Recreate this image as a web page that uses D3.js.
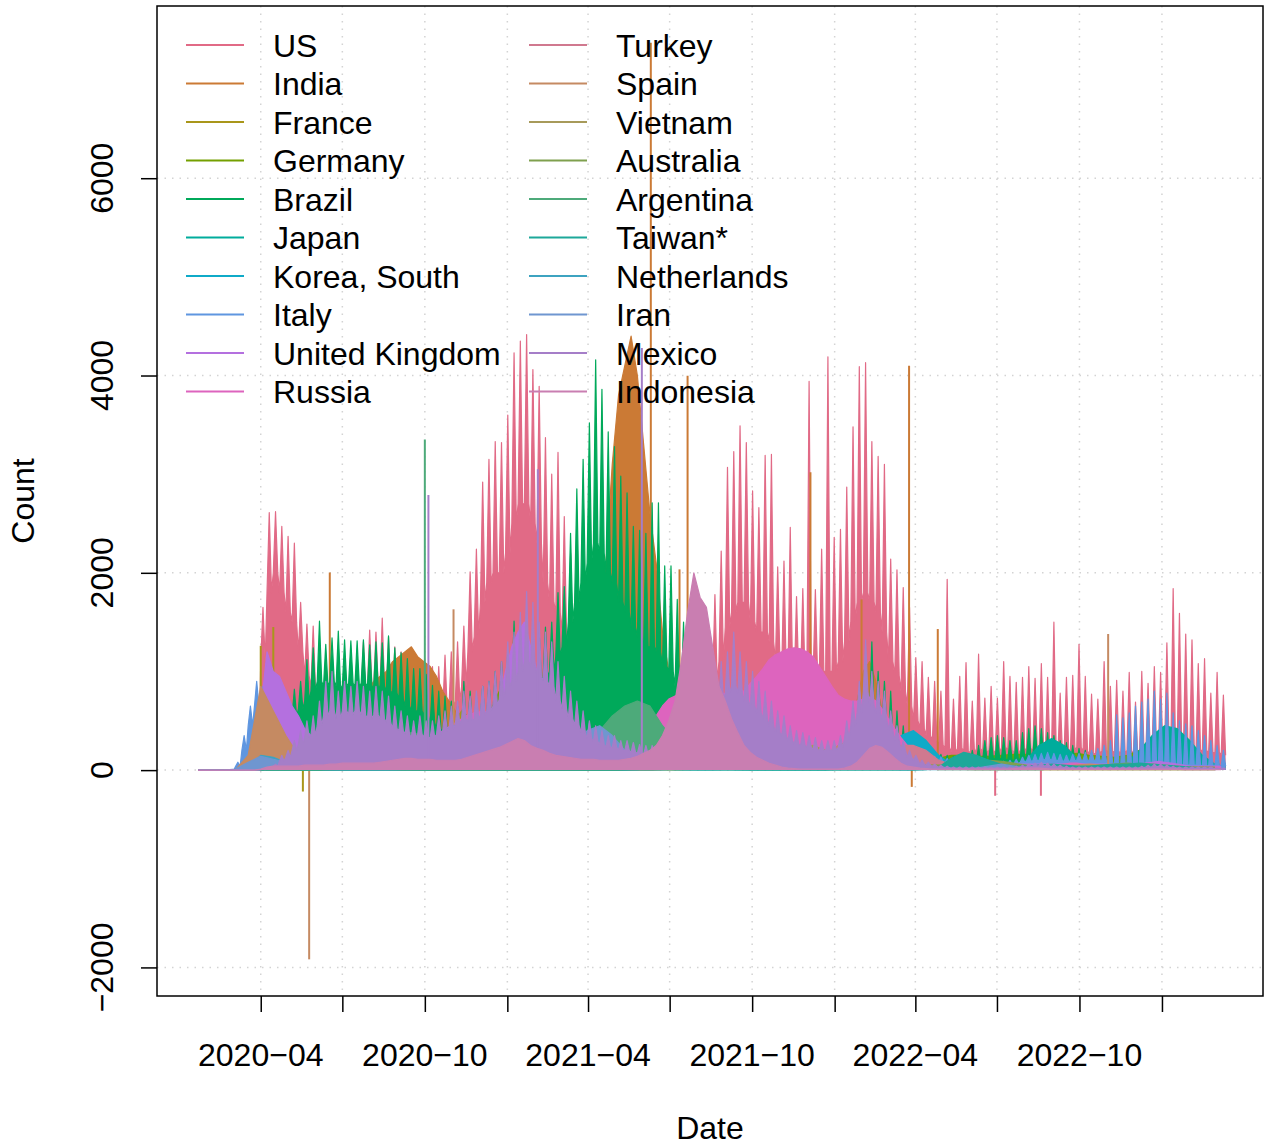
<!DOCTYPE html>
<html><head><meta charset="utf-8">
<script src="https://cdn.jsdelivr.net/npm/d3@7"></script>
<style>
body{margin:0;background:#fff}
svg{display:block}
text{font-family:"Liberation Sans",Arial,Helvetica,sans-serif;fill:#000}
</style>
</head><body>
<svg id="chart" width="1272" height="1147"></svg>
<script>
// ---------------- categories & colours ----------------
const countries = ["US","India","France","Germany","Brazil","Japan","Korea, South","Italy","United Kingdom","Russia",
                   "Turkey","Spain","Vietnam","Australia","Argentina","Taiwan*","Netherlands","Iran","Mexico","Indonesia"];
const colors = ["#E16A86","#CB7A35","#A9961A","#74A000","#00A95A","#00AC9C","#0FAAC8","#5F96E0","#B470DF","#DD64BE",
                "#D0798F","#C58A62","#A79A5A","#7FA04E","#4DAA7A","#1DA89A","#3DA3C0","#6F96D0","#A57EC8","#C97EB1"];

// ---------------- weekly high / low readings (week 0 = 2020-01-22) ----------------
const usHigh = [0,0,0,0,0,0,0,5,10,150,
 1650,2610,2620,2470,2370,2300,1700,1480,1460,1150,
 1050,950,900,950,1000,1150,1300,1420,1400,1540,
 1350,1250,1200,1150,1100,1050,1000,1050,1050,1165,
 1200,1300,1460,2010,2240,2920,3150,3330,3320,3600,
 4230,4350,4415,4060,3890,3370,3000,3220,2570,2200,
 1900,1700,1500,1200,1100,1000,950,900,850,800,
 700,650,600,500,450,400,400,450,550,700,
 900,1300,1780,2220,3070,3230,3490,3320,2830,2660,
 3190,3200,2060,2120,2460,1760,1840,3940,1830,2240,
 4190,2360,2440,2870,3480,4090,4130,3330,3180,3100,
 2140,2030,1850,1650,1140,1100,940,900,800,1935,
 720,950,1090,700,1175,730,850,730,1100,950,
 890,940,1050,930,1080,940,1500,780,940,960,
 1275,950,770,720,1100,850,910,800,990,690,
 1000,880,1050,990,1290,1840,1590,1380,1320,1080,
 1130,780,990,760];
const usLow = [0,0,0,0,0,0,0,2,5,80,
 1100,1800,2000,1800,1600,1500,1200,950,850,700,
 600,550,500,500,550,650,750,850,850,850,
 750,700,650,600,550,500,500,550,550,600,
 650,700,850,1200,1350,1700,1900,2000,2000,2200,
 2500,2700,2700,2500,2300,1900,1700,1600,1400,1200,
 1000,900,750,650,600,550,500,450,420,380,
 340,300,250,200,170,150,150,180,220,330,
 450,650,900,1100,1450,1600,1700,1700,1500,1400,
 1400,1300,1100,1000,1000,900,900,900,950,1000,
 1000,1000,1100,1300,1500,1700,1800,1700,1600,1400,
 1100,950,800,650,500,420,350,300,250,230,
 180,220,200,160,220,180,200,170,230,200,
 180,200,220,190,210,180,240,170,200,210,
 230,190,170,160,200,180,190,170,200,160,
 190,180,200,190,230,280,260,240,230,200,
 200,170,180,150];

const brazilHigh = [0,0,0,0,0,0,0,0,5,30,
 100,200,220,400,600,820,900,1120,1240,1510,
 1275,1340,1410,1320,1310,1310,1320,1270,1300,1290,
 1360,1240,1190,1130,1030,1030,970,860,800,750,
 700,650,900,800,700,850,900,1000,1100,1200,
 1510,1300,1350,1350,1400,1450,1500,1800,1860,2400,
 2850,3150,3520,4160,3860,3430,3280,2980,2810,2470,
 2430,2400,2710,2710,2070,2070,1730,1500,1400,1300,
 1100,1000,900,800,700,650,600,550,450,400,
 350,300,280,300,250,260,240,250,230,220,
 200,180,170,250,400,600,900,1300,1000,900,
 800,600,450,350,300,250,200,180,160,150,
 140,150,160,200,250,300,330,350,330,300,
 300,380,420,450,420,380,350,300,280,250,
 220,200,180,160,160,180,200,220,250,240,
 260,300,350,300,250,200,180,160,150,140,
 130,120,120,110];
const brazilLow = [0,0,0,0,0,0,0,0,0,10,
 60,120,140,250,380,550,620,700,800,900,
 850,900,850,850,880,850,880,850,850,850,
 800,780,720,650,600,600,550,480,420,380,
 350,350,420,450,450,500,550,600,650,700,
 800,850,850,850,900,950,1000,1150,1250,1500,
 1700,1900,2100,2300,2200,2000,1900,1700,1600,1450,
 1350,1250,1250,1200,1050,1000,850,800,700,650,
 600,550,480,420,350,320,280,260,200,190,
 160,130,130,130,120,120,110,110,110,100,
 90,80,80,110,160,260,400,550,520,460,
 300,200,150,120,100,80,70,60,60,50,
 50,50,60,70,80,100,110,120,110,100,
 100,120,140,150,140,120,110,100,90,80,
 70,70,60,50,50,60,70,70,80,80,
 90,100,110,100,80,70,60,50,50,50,
 40,40,40,40];

const mexicoHigh = [0,0,0,0,0,0,0,0,0,0,
 10,30,60,150,200,300,400,500,550,700,
 900,1000,800,900,850,900,850,800,850,800,
 750,650,600,550,500,550,500,500,550,600,
 650,700,800,750,800,850,900,1000,1100,1300,
 1400,1600,1810,1700,1500,1400,1300,1100,950,800,
 700,600,500,450,400,350,350,300,300,280,
 260,250,250,250,250,260,280,400,500,700,
 800,900,1000,1100,1200,1400,1200,1100,1000,900,
 800,700,600,550,450,400,380,350,330,300,
 300,300,350,500,700,900,1320,1000,900,800,
 600,450,300,200,150,100,80,60,50,40,
 30,30,30,30,30,30,30,30,30,30,
 40,50,60,70,80,70,60,50,40,30,
 30,30,30,30,30,30,30,30,30,30,
 40,50,60,60,50,40,30,30,30,30,
 30,30,20,20];
const mexicoLow = [0,0,0,0,0,0,0,0,0,0,
 5,18,40,90,130,200,260,330,350,450,
 550,600,520,600,560,600,560,520,560,520,
 480,420,400,360,330,360,330,330,360,400,
 420,460,520,500,520,560,600,650,720,850,
 900,1000,1100,1050,950,900,850,700,620,520,
 450,380,320,290,260,230,230,200,200,180,
 170,160,160,160,160,170,180,260,320,450,
 520,580,650,700,780,850,780,700,650,580,
 520,450,380,350,300,260,250,230,210,200,
 200,200,230,320,450,580,800,650,580,520,
 400,300,200,130,100,60,50,40,30,25,
 20,20,20,20,20,20,20,20,20,20,
 25,30,35,40,45,40,35,30,25,20,
 20,20,20,20,20,20,20,20,20,20,
 25,30,35,35,30,25,20,20,20,20,
 20,20,15,15];

const italyHigh = [0,0,0,0,0,5,80,350,650,900,
 850,750,650,550,450,350,280,200,120,90,
 70,50,40,30,25,20,20,15,15,15,
 15,15,15,15,15,20,25,30,50,90,
 200,350,600,700,750,850,800,750,650,550,
 550,520,480,420,380,350,330,330,380,450,
 500,520,480,430,380,330,280,220,160,110,
 80,60,40,30,25,20,20,20,20,30,
 40,50,60,70,70,70,70,70,60,60,
 60,60,60,70,80,100,120,150,180,250,
 300,350,400,450,450,400,380,350,300,250,
 220,200,180,170,160,150,140,140,130,120,
 120,110,100,90,80,80,80,80,90,100,
 110,130,150,160,170,180,170,160,150,160,
 170,180,200,220,250,300,560,530,580,650,
 690,720,800,720,780,580,500,470,450,400,
 350,300,250,200];
const italyLow = [0,0,0,0,0,2,40,200,450,650,
 600,550,450,380,300,230,180,130,80,60,
 45,35,25,20,15,12,12,10,10,10,
 10,10,10,10,10,12,15,20,30,60,
 130,230,400,450,500,550,500,450,400,350,
 350,330,300,270,240,220,210,210,240,290,
 320,330,300,270,240,210,180,140,100,70,
 50,40,25,20,15,12,12,12,12,18,
 25,30,35,40,40,40,40,40,35,35,
 35,35,35,40,50,60,70,90,110,150,
 180,200,240,270,270,240,230,210,180,150,
 130,120,110,100,95,90,85,85,80,70,
 70,65,60,55,50,50,50,50,55,60,
 65,80,90,95,100,110,100,95,90,95,
 100,100,100,100,100,80,50,50,50,50,
 50,50,50,50,50,50,50,50,50,50,
 40,40,40,40];

// ---------------- weekly readings (one value per week) ----------------
const indiaWeekly = [0,0,0,0,0,0,0,0,0,0,
 5,20,30,50,70,100,120,140,160,200,
 300,350,400,450,550,650,750,800,900,950,
 1000,1100,1150,1200,1250,1150,1100,1050,950,800,
 700,600,550,500,480,450,400,350,300,250,
 200,150,130,120,110,100,110,120,150,200,
 150,200,400,700,1200,2100,3100,3800,4100,4400,
 4000,3300,2600,2100,1400,1000,800,600,550,500,
 480,450,420,400,350,300,300,280,260,250,
 300,400,450,400,350,300,350,400,300,250,
 250,250,200,200,400,700,1000,1100,900,600,
 300,150,100,60,40,30,30,30,30,30,
 30,30,30,30,30,30,30,30,30,30,
 40,50,50,40,30,30,30,30,30,30,
 30,30,30,30,20,20,20,20,20,20,
 10,10,10,10,10,10,10,10,10,10,
 10,10,10,10];
const franceWeekly = [0,0,0,0,0,0,0,5,20,150,
 700,1000,900,650,450,330,250,150,90,60,
 40,30,25,20,20,15,15,15,15,15,
 15,15,20,25,40,60,70,90,120,200,
 350,500,600,550,450,380,350,330,320,350,
 380,400,420,420,400,380,350,330,320,330,
 360,400,420,400,350,300,250,180,120,80,
 50,40,30,30,25,25,25,30,40,60,
 80,100,110,110,100,90,80,70,60,50,
 40,40,40,50,60,80,120,160,200,250,
 200,200,220,250,300,280,250,230,200,170,
 140,130,150,140,120,100,80,60,50,45,
 40,40,45,50,60,70,80,80,70,60,
 50,45,40,40,45,50,60,70,80,90,
 80,70,60,60,70,90,100,100,90,80,
 70,60,50,50,60,60,50,40,40,40,
 40,40,40,40];
const ukWeekly = [0,0,0,0,0,0,0,0,5,40,
 600,1200,1000,950,800,650,550,420,350,250,
 180,150,120,100,80,60,50,40,30,20,
 15,15,15,20,30,50,70,100,150,220,
 300,400,450,500,450,420,450,550,700,1000,
 1250,1400,1500,1250,1000,700,500,350,250,180,
 120,70,40,30,25,20,15,15,15,15,
 15,15,15,15,20,25,30,50,70,80,
 100,110,120,130,150,150,140,130,150,150,
 150,140,130,130,120,120,120,120,120,130,
 150,200,250,280,250,220,200,170,150,150,
 180,200,250,200,150,120,100,80,60,60,
 60,70,80,100,100,80,70,60,60,60,
 60,60,60,60,60,60,60,60,60,60,
 60,60,60,60,60,60,60,60,60,60,
 60,70,80,90,80,70,60,50,40,40,
 40,40,40,40];
const russiaWeekly = [0,0,0,0,0,0,0,0,0,0,
 5,10,20,40,70,90,110,130,150,170,
 170,160,150,150,140,130,120,120,110,110,
 110,110,120,130,160,200,250,300,350,400,
 440,480,520,560,580,590,590,570,560,550,
 530,500,480,450,420,400,390,380,370,360,
 350,350,350,360,370,380,380,380,380,390,
 400,420,460,550,650,720,750,780,790,790,
 790,790,780,770,780,800,820,800,880,950,
 1030,1120,1170,1200,1230,1240,1230,1200,1150,1050,
 950,850,760,720,700,700,720,740,700,620,
 520,420,330,250,200,170,120,90,70,60,
 50,45,40,40,35,35,30,30,30,30,
 30,30,30,30,30,30,40,50,60,70,
 70,60,50,45,40,40,40,40,40,40,
 40,40,40,40,35,35,30,30,30,30,
 30,30,30,30];
const indonesiaWeekly = [0,0,0,0,0,0,0,0,0,0,
 10,30,40,40,40,40,40,50,50,50,
 50,60,60,70,70,70,70,70,70,80,
 90,100,110,120,120,110,110,110,100,100,
 100,100,110,130,150,170,190,210,230,260,
 290,320,300,250,220,200,170,150,140,130,
 120,110,110,110,100,100,100,100,110,120,
 140,170,200,250,350,500,700,1100,1600,2000,
 1750,1650,1250,850,700,520,380,250,180,130,
 100,70,50,30,20,15,10,10,10,10,
 10,10,10,20,40,80,150,220,250,230,
 180,120,70,40,30,20,15,10,10,10,
 10,10,10,10,10,10,10,10,10,10,
 15,20,20,20,20,15,10,10,10,10,
 10,10,10,10,10,10,10,10,10,10,
 10,10,10,10,10,10,10,5,5,5,
 5,5,5,5];

// ---------------- fortnightly readings (one value per two weeks) ----------------
const germanyBiweekly = [0,0,0,0,5,100,230,150,60,30,
 15,10,10,10,8,8,10,12,15,30,
 100,250,350,500,800,900,700,400,250,200,
 200,230,250,200,100,50,30,20,20,20,
 40,60,80,120,250,400,400,300,250,200,
 200,250,280,250,200,150,120,100,100,120,
 150,150,140,140,150,160,160,150,150,160,
 170,150,140,130,150,200,180,150,120,100,
 80,60];
const japanBiweekly = [0,0,0,0,0,2,10,15,10,5,
 3,2,2,2,3,8,12,10,8,5,
 5,5,10,20,40,60,80,100,80,50,
 40,60,90,100,80,40,15,10,20,50,
 50,30,10,5,3,2,2,2,2,2,
 3,10,60,150,230,250,200,120,70,50,
 40,30,20,15,15,20,100,250,320,250,
 120,60,40,40,80,200,350,450,420,300,
 150,60];
const koreaBiweekly = [0,0,0,5,8,5,3,2,1,1,
 1,1,1,1,2,3,3,2,2,2,
 3,5,15,20,20,15,10,8,5,5,
 5,3,3,3,3,3,3,3,3,3,
 5,5,8,10,15,20,20,30,40,50,
 80,70,40,30,50,150,350,400,300,150,
 60,20,15,10,15,40,60,70,50,30,
 30,40,50,50,60,50,40,30,20,15,
 12,10];
const turkeyBiweekly = [0,0,0,0,0,60,120,100,50,30,
 20,20,20,20,20,40,60,60,60,70,
 100,150,200,250,250,200,150,120,100,80,
 70,80,150,300,350,250,100,60,50,50,
 60,150,250,230,200,200,220,200,150,150,
 180,200,180,150,150,200,250,250,200,100,
 60,40,30,20,15,15,15,15,15,15,
 15,15,15,15,15,15,15,15,10,10,
 10,10];
const spainBiweekly = [0,0,0,5,150,850,600,350,150,50,
 20,10,5,5,20,50,80,150,200,250,
 300,350,300,250,200,250,300,400,500,450,
 350,200,100,50,30,30,30,30,20,20,
 20,50,100,80,50,20,10,10,40,100,
 150,250,300,250,150,100,80,60,50,50,
 40,40,50,60,60,50,40,30,30,40,
 50,60,50,40,40,50,60,50,40,30,
 30,20];
const vietnamBiweekly = [0,0,0,0,0,0,0,0,0,0,
 0,0,1,1,0,0,0,0,0,0,
 0,0,0,0,0,0,0,0,0,0,
 0,0,0,0,1,2,3,10,50,200,
 500,500,300,150,80,60,80,150,220,250,
 200,150,100,80,80,100,80,40,20,5,
 5,5,3,3,3,3,3,3,3,3,
 3,3,3,3,3,3,3,3,3,3,
 3,3];
const australiaBiweekly = [0,0,0,0,1,3,3,2,1,0,
 0,0,1,5,15,20,15,5,1,0,
 0,0,0,0,0,0,0,0,0,0,
 0,0,0,0,0,0,0,1,2,5,
 8,10,12,15,15,12,10,10,12,15,
 20,30,60,80,50,40,40,40,50,50,
 50,60,80,100,90,70,50,40,30,30,
 30,40,50,60,70,60,50,40,30,30,
 30,30];
const argentinaBiweekly = [0,0,0,0,2,10,15,20,15,20,
 30,50,100,150,250,300,350,380,350,300,
 250,200,150,130,150,170,150,130,120,150,
 200,300,400,550,650,700,650,450,300,180,
 100,80,50,30,20,15,15,10,10,10,
 20,60,150,200,150,80,40,30,20,15,
 10,10,10,10,10,10,10,10,10,10,
 10,10,10,10,10,10,10,10,10,10,
 10,10];
const taiwanBiweekly = [0,0,0,0,0,0,0,0,0,0,
 0,0,0,0,0,0,0,0,0,0,
 0,0,0,0,0,0,0,0,0,0,
 0,0,0,0,0,5,20,15,5,1,
 0,0,0,0,0,0,0,0,0,0,
 0,0,0,0,0,0,0,0,5,30,
 120,180,150,100,60,40,40,50,60,50,
 40,40,50,60,60,70,60,50,40,30,
 20,15];
const netherlandsBiweekly = [0,0,0,0,20,150,130,80,40,15,
 5,3,3,3,3,3,5,15,30,50,
 60,50,40,50,70,80,60,40,30,30,
 25,20,15,10,5,3,2,5,10,10,
 10,20,40,50,60,40,20,30,60,50,
 30,20,15,15,10,10,5,5,5,5,
 5,5,5,5,5,5,5,5,10,10,
 10,10,10,10,10,10,10,10,10,10,
 10,10];
const iranBiweekly = [0,0,0,10,80,140,110,80,60,60,
 100,150,200,220,200,170,150,180,250,350,
 430,480,400,250,150,100,80,80,90,100,
 200,400,450,350,200,150,150,250,400,550,
 650,600,450,300,180,120,80,60,40,30,
 30,60,150,250,200,120,60,30,20,10,
 10,10,20,40,60,40,20,10,10,10,
 10,10,10,10,10,10,10,10,10,10,
 10,10];

// ---------------- single-day reporting spikes ----------------
const spikeCountry = ["France","France","France","Spain","India","Argentina","Mexico","Spain","Mexico","Mexico",
                      "India","India","India","India","India","India","India","India","US","US","Spain"];
const spikeDate = ["2020-04-01","2020-04-15","2020-05-18","2020-05-25","2020-06-17","2020-10-01","2020-10-05","2020-11-02","2021-02-04","2021-05-31",
                   "2021-06-10","2021-07-12","2021-07-21","2021-12-05","2022-01-31","2022-03-25","2022-03-28","2022-04-26","2022-06-29","2022-08-19","2022-11-02"];
const spikeValue = [1260,1450,-217,-1918,2003,3351,2789,1630,3050,4280,
                    7374,2035,3998,3020,1730,4100,-170,1430,-260,-260,1380];

// ---------------- axis ticks ----------------
const yTicks = [-2000,0,2000,4000,6000];
const xTickDates = ["2020-04-01","2020-07-01","2020-10-01","2021-01-01","2021-04-01","2021-07-01",
                    "2021-10-01","2022-01-01","2022-04-01","2022-07-01","2022-10-01","2023-01-01"];
const xTickLabels = ["2020\u221204","","2020\u221210","","2021\u221204","","2021\u221210","","2022\u221204","","2022\u221210",""];

// ---------------- build table ----------------
const DAY = 864e5;
const t0 = Date.UTC(2020,0,22);
const tEnd = Date.UTC(2023,2,9);
const parse = s => new Date(s + "T00:00:00Z");
// each week: low reading, the weekly peak day, low reading again
function comb(hi, lo){
  const out=[]; const n=Math.min(hi.length, lo.length);
  for(let i=0;i<n;i++){
    out.push({date:new Date(t0+(7*i)*DAY), value:lo[i]});
    out.push({date:new Date(t0+(7*i+2.5)*DAY), value:hi[i]});
    out.push({date:new Date(t0+(7*i+5)*DAY), value:lo[i]});
  }
  return out;
}
const steps = (vals, step) => vals.map((v,i)=>({date:new Date(t0+i*step*DAY), value:v}));

const seriesData = {
  "US": comb(usHigh, usLow),
  "India": steps(indiaWeekly, 7),
  "France": steps(franceWeekly, 7),
  "Germany": steps(germanyBiweekly, 14),
  "Brazil": comb(brazilHigh, brazilLow),
  "Japan": steps(japanBiweekly, 14),
  "Korea, South": steps(koreaBiweekly, 14),
  "Italy": comb(italyHigh, italyLow),
  "United Kingdom": steps(ukWeekly, 7),
  "Russia": steps(russiaWeekly, 7),
  "Turkey": steps(turkeyBiweekly, 14),
  "Spain": steps(spainBiweekly, 14),
  "Vietnam": steps(vietnamBiweekly, 14),
  "Australia": steps(australiaBiweekly, 14),
  "Argentina": steps(argentinaBiweekly, 14),
  "Taiwan*": steps(taiwanBiweekly, 14),
  "Netherlands": steps(netherlandsBiweekly, 14),
  "Iran": steps(iranBiweekly, 14),
  "Mexico": comb(mexicoHigh, mexicoLow),
  "Indonesia": steps(indonesiaWeekly, 7)
};
const spikes = spikeCountry.map((c,i)=>({country:c, date:parse(spikeDate[i]), value:spikeValue[i]}));

// ---------------- scales ----------------
const L=157, R=1263, T=6, B=996;
const span = tEnd - t0;
const x = d3.scaleUtc().domain([new Date(t0-0.04*span), new Date(tEnd+0.04*span)]).range([L,R]);
const allVals = Object.values(seriesData).flat().map(d=>d.value).concat(spikeValue);
const [vmin, vmax] = d3.extent(allVals);
const vr = vmax - vmin;
const y = d3.scaleLinear().domain([vmin-0.04*vr, vmax+0.04*vr]).range([B,T]);

const svg = d3.select("#chart");
svg.append("rect").attr("width",1272).attr("height",1147).attr("fill","#fff");
svg.append("clipPath").attr("id","clip").append("rect").attr("x",L).attr("y",T).attr("width",R-L).attr("height",B-T);

// grid
const grid = svg.append("g").attr("stroke","#d3d3d3").attr("stroke-width",1.5).attr("stroke-dasharray","1.5,6");
grid.selectAll(".gy").data(yTicks).join("line").attr("x1",L).attr("x2",R).attr("y1",d=>y(d)).attr("y2",d=>y(d));
grid.selectAll(".gx").data(xTickDates).join("line").attr("y1",T).attr("y2",B).attr("x1",d=>x(parse(d))).attr("x2",d=>x(parse(d)));

// series
const area = d3.area().x(d=>x(d.date)).y0(y(0)).y1(d=>y(d.value));
const line = d3.line().x(d=>x(d.date)).y(d=>y(d.value));
const plotG = svg.append("g").attr("clip-path","url(#clip)");
countries.forEach((c,i)=>{
  const g = plotG.append("g");
  const data = seriesData[c];
  g.append("path").datum(data).attr("d",area).attr("fill",colors[i]).attr("stroke","none");
  g.append("path").datum(data).attr("d",line).attr("fill","none").attr("stroke",colors[i]).attr("stroke-width",1.2).attr("stroke-linejoin","round");
  g.selectAll("line").data(spikes.filter(s=>s.country===c)).join("line")
    .attr("x1",d=>x(d.date)).attr("x2",d=>x(d.date)).attr("y1",y(0)).attr("y2",d=>y(d.value))
    .attr("stroke",colors[i]).attr("stroke-width",2);
});

// box
svg.append("rect").attr("x",L).attr("y",T).attr("width",R-L).attr("height",B-T).attr("fill","none").attr("stroke","#000").attr("stroke-width",1.5);

// axes
const yAxis = d3.axisLeft(y).tickValues(yTicks).tickSize(16).tickFormat("");
const ya = svg.append("g").attr("transform",`translate(${L},0)`).call(yAxis);
ya.select(".domain").remove();
ya.selectAll("line").attr("stroke","#000").attr("stroke-width",1.5);
svg.selectAll(".ylab").data(yTicks).join("text").attr("class","ylab")
  .attr("transform",d=>`translate(113,${y(d)}) rotate(-90)`).attr("text-anchor","middle")
  .attr("font-size",32).text(d=>d<0?"\u2212"+Math.abs(d):String(d));

const xAxis = d3.axisBottom(x).tickValues(xTickDates.map(parse)).tickSize(16).tickFormat("");
const xa = svg.append("g").attr("transform",`translate(0,${B})`).call(xAxis);
xa.select(".domain").remove();
xa.selectAll("line").attr("stroke","#000").attr("stroke-width",1.5);
svg.selectAll(".xlab").data(xTickDates).join("text").attr("class","xlab")
  .attr("x",d=>x(parse(d))).attr("y",1066).attr("text-anchor","middle").attr("font-size",32)
  .text((d,i)=>xTickLabels[i]);

svg.append("text").attr("x",(L+R)/2).attr("y",1139).attr("text-anchor","middle").attr("font-size",32).text("Date");
svg.append("text").attr("transform",`translate(34,${(T+B)/2}) rotate(-90)`).attr("text-anchor","middle").attr("font-size",32).text("Count");

// legend
const leg = svg.append("g");
countries.forEach((c,i)=>{
  const col = Math.floor(i/10), row = i%10;
  const lx = 186 + col*343, ly = 45 + row*38.5;
  leg.append("line").attr("x1",lx).attr("x2",lx+58).attr("y1",ly).attr("y2",ly).attr("stroke",colors[i]).attr("stroke-width",2);
  leg.append("text").attr("x",lx+87).attr("y",ly).attr("dy","0.36em").attr("font-size",32).text(c);
});
</script>
</body></html>
